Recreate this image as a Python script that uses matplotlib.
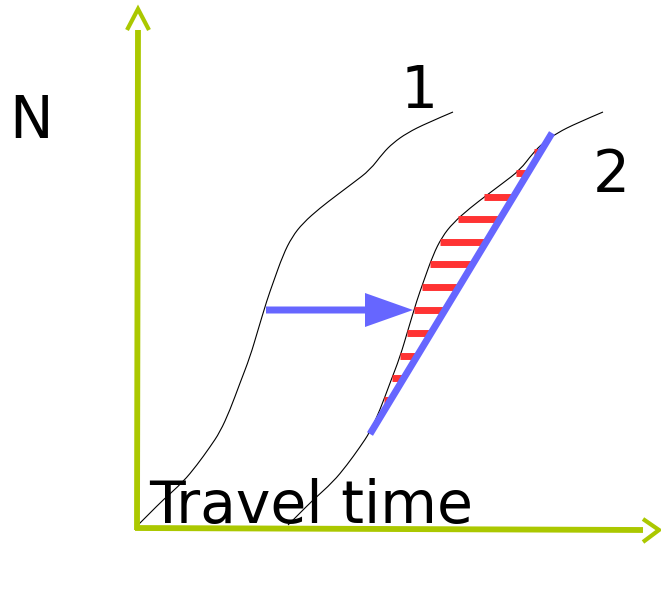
#!/usr/bin/env python

# Third-Party Packages
import numpy as np
import matplotlib as mpl; mpl.use("Agg")
import matplotlib.pyplot as plt
from matplotlib.patches import FancyArrow, PathPatch
from matplotlib.path import Path

# Diagram data (pixel frame of the drawing, y grows downwards)
# ------------------------------------------------------------------------------
curve_x = [138, 150, 163, 183, 197, 210, 220, 230, 240, 250, 258, 267, 273, 283,
           292, 303, 320, 337, 353, 370, 383, 393, 407, 427, 453]
curve_y = [525, 513, 500, 482, 465, 447, 432, 410, 383, 357, 330, 300, 283, 255,
           237, 223, 208, 195, 183, 170, 153, 143, 133, 123, 112]
shift = 150  # curve 2 = curve 1 delayed by the travel time

tangent_x = [370, 552]
tangent_y = [434, 133]

hatch_y = [152, 173, 197, 219, 242, 264, 287, 310, 333, 356, 378, 400]

arrow_from = (266, 310)
arrow_to = (413, 310)

axis_origin = (137, 528)
axis_top = (138, 30)
axis_right = (643, 530)

labels = ["N", "1", "2", "Travel time"]
label_pos = [(9, 138), (401, 108), (593, 192), (149, 523)]

# Colors
# ------------------------------------------------------------------------------
green = "#abc800"
blue = "#6666ff"
red = "#ff3333"

# Smooth path through the read points (quadratic bezier, points as controls)
# ------------------------------------------------------------------------------
def smooth_path(x, y):
    pts = np.column_stack([x, y])
    verts = [pts[0]]
    codes = [Path.MOVETO]
    for i in range(1, len(pts) - 1):
        mid = (pts[i] + pts[i + 1]) / 2 if i < len(pts) - 2 else pts[i + 1]
        verts += [pts[i], mid]
        codes += [Path.CURVE3, Path.CURVE3]
    return Path(verts, codes)

# Figure
# ------------------------------------------------------------------------------
fig = plt.figure(figsize=(6.61, 6.05), dpi=100)
ax = fig.add_axes([0, 0, 1, 1])
ax.set_xlim(0, 661)
ax.set_ylim(605, 0)
ax.axis("off")

# axes with open arrow heads
ax.plot([axis_origin[0], axis_top[0]], [axis_origin[1] + 2, axis_top[1]],
        color=green, lw=4.2, solid_capstyle="butt")
ax.plot([axis_origin[0] - 2, axis_right[0]], [axis_origin[1], axis_right[1]],
        color=green, lw=4.2, solid_capstyle="butt")
ax.plot([axis_top[0] - 11, axis_top[0], axis_top[0] + 11],
        [axis_top[1], axis_top[1] - 21, axis_top[1]],
        color=green, lw=3.0, solid_joinstyle="miter", solid_capstyle="butt")
ax.plot([axis_right[0], axis_right[0] + 16, axis_right[0]],
        [axis_right[1] - 11, axis_right[1], axis_right[1] + 12],
        color=green, lw=3.0, solid_joinstyle="miter", solid_capstyle="butt")

# cumulative curves
cx = np.array(curve_x, dtype=float)
cy = np.array(curve_y, dtype=float)
for dx in (0, shift):
    ax.add_patch(PathPatch(smooth_path(cx + dx, cy), facecolor="none",
                           edgecolor="black", lw=0.8))

# hatching between curve 2 and the tangent
hy = np.array(hatch_y, dtype=float)
left = np.interp(hy, cy[::-1], cx[::-1]) + shift
right = np.interp(hy, tangent_y[::-1], tangent_x[::-1])
for y, x0, x1 in zip(hy, left, right):
    ax.plot([x0, x1], [y, y], color=red, lw=5, solid_capstyle="butt")

ax.plot(tangent_x, tangent_y, color=blue, lw=5, solid_capstyle="butt")

# shift arrow
ax.add_patch(FancyArrow(arrow_from[0], arrow_from[1],
                        arrow_to[0] - arrow_from[0], arrow_to[1] - arrow_from[1],
                        width=7, head_width=34, head_length=48,
                        length_includes_head=True, color=blue, lw=0))

for text, (x, y) in zip(labels, label_pos):
    ax.text(x, y, text, fontsize=42, ha="left", va="baseline", color="black")

fig.savefig("out.png", dpi=100)
